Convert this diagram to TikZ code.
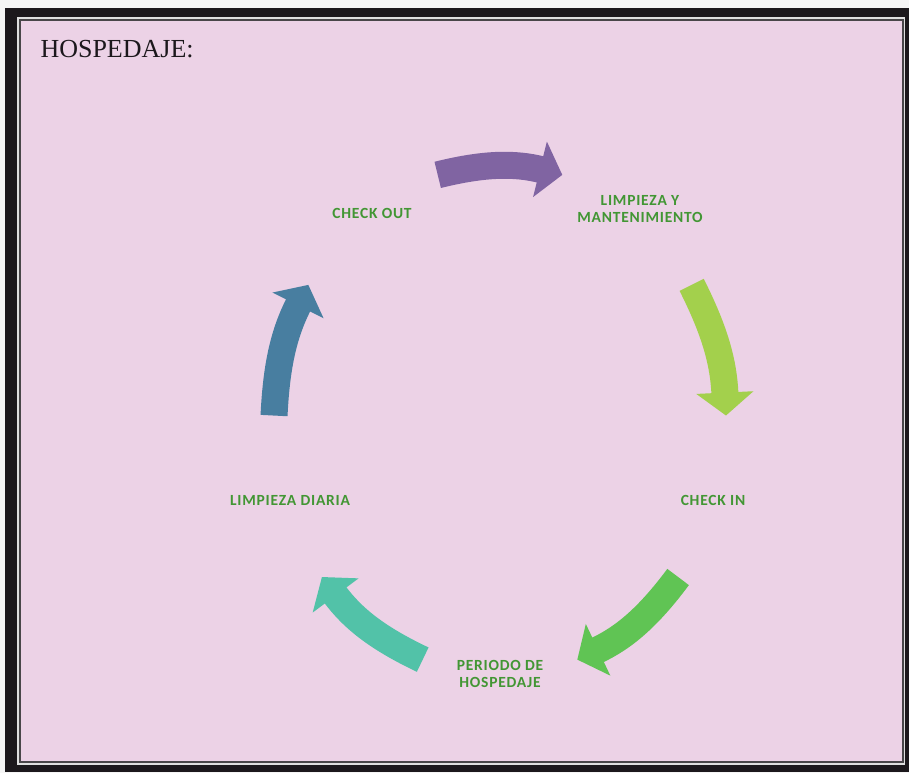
\documentclass[tikz,border=0pt]{standalone}
\usepackage{fontspec}
\setmainfont{Liberation Serif}
\newfontfamily\pasofont[LetterSpace=5]{Carlito}
\usetikzlibrary{arrows.meta}
\definecolor{fondo}{RGB}{236,210,230}
\definecolor{marco}{RGB}{28,24,28}
\definecolor{texto}{RGB}{66,150,52}
\definecolor{morado}{RGB}{128,100,162}
\definecolor{limon}{RGB}{163,208,76}
\definecolor{verde}{RGB}{96,196,84}
\definecolor{turquesa}{RGB}{82,194,168}
\definecolor{azul}{RGB}{72,126,160}
\tikzset{
  paso/.style={font=\pasofont\bfseries\fontsize{15.5}{17}\selectfont, text=texto, align=center},
  ciclo/.style={line width=27pt, -{Triangle[width=56pt,length=23pt]}}
}

\begin{document}
\begin{tikzpicture}[x=1pt,y=-1pt]
\fill[white!92!gray] (0,0) rectangle (909,773);
\fill[marco] (5,8) rectangle (909,772);
\fill[white!75!gray] (17,17) rectangle (905,765);
\filldraw[fill=fondo, draw=marco!80, line width=1.2pt] (20,20) rectangle (903,762);
\node[anchor=base west, font=\fontsize{26}{30}\selectfont, text=marco] (titulo) at (37,58) {HOSPEDAJE:};

\node[paso] (checkout) at (372,213) {CHECK OUT};
\node[paso] (limpieza) at (640,209) {LIMPIEZA Y\\MANTENIMIENTO};
\node[paso] (checkin) at (713,500) {CHECK IN};
\node[paso] (periodo) at (500,674) {PERIODO DE\\HOSPEDAJE};
\node[paso] (diaria) at (290,500) {LIMPIEZA DIARIA};

\begin{scope}[shift={(500,420)}, x=226pt, y=255pt]
  \coordinate (a1) at (106:1); \coordinate (b1) at (74:1);
  \coordinate (a2) at (32:1);  \coordinate (b2) at (1:1);
  \coordinate (a3) at (-38:1); \coordinate (b3) at (-70:1);
  \coordinate (a4) at (-110:1); \coordinate (b4) at (-142:1);
  \coordinate (a5) at (-181:1); \coordinate (b5) at (-212:1);
  \draw[ciclo, morado] (a1) to[bend left=14] (b1);
  \draw[ciclo, limon] (a2) to[bend left=12] (b2);
  \draw[ciclo, verde] (a3) to[bend left=14] (b3);
  \draw[ciclo, turquesa] (a4) to[bend left=14] (b4);
  \draw[ciclo, azul] (a5) to[bend left=12] (b5);
\end{scope}
\useasboundingbox (0,0) rectangle (909,773);
\end{tikzpicture}
\end{document}
